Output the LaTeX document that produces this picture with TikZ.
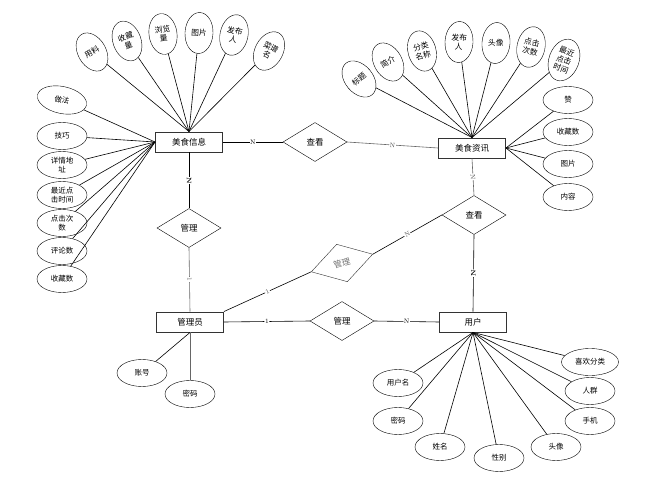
\documentclass[tikz,border=0pt]{standalone}
\usepackage{fontspec}
\newfontfamily\cjk{Noto Sans CJK SC}
\usetikzlibrary{shapes.geometric}
\begin{document}
\begin{tikzpicture}[x=1pt,y=-1pt,
  every node/.style={font=\cjk\fontsize{7.5}{8.5}\selectfont},
  ent/.style={draw=black!80,line width=0.9pt,rectangle,minimum width=67pt,minimum height=20pt,inner sep=0pt,font=\cjk\fontsize{8.5}{9}\selectfont},
  rel/.style={draw,diamond,minimum width=64pt,minimum height=39pt,inner sep=0pt,font=\cjk\fontsize{8.5}{9}\selectfont},
  vatt/.style={draw,ellipse,minimum width=28pt,minimum height=41pt,inner sep=0pt,align=center,font=\cjk\fontsize{7.8}{8.8}\selectfont},
  hatt/.style={draw,ellipse,minimum width=50pt,minimum height=27pt,inner sep=0pt,align=center,font=\cjk\fontsize{7.5}{8.5}\selectfont},
  lbl/.style={midway,sloped,fill=white,inner sep=0.6pt,font=\fontsize{6.5}{6.5}\selectfont},
  conn/.style={line width=0.6pt},
  grayconn/.style={line width=0.6pt,draw=black!60}]
\useasboundingbox[fill=white] (0,0) rectangle (654,479);
% entities
\node[ent] (info) at (189,142) {美食信息};
\node[ent] (news) at (472,148) {美食资讯};
\node[ent] (admin) at (190,322) {管理员};
\node[ent] (user) at (473,322) {用户};
% relations
\node[rel] (r1) at (315,142) {查看};
\node[rel] (r2) at (189,228) {管理};
\node[rel,rotate=16,text=black!55,draw=black!80] (r3) at (342,263) {管理};
\node[rel] (r4) at (474,215) {查看};
\node[rel] (r5) at (342,321) {管理};
% relation edges
\draw[conn] (info.east) -- (r1.west) node[lbl] {N};
\draw[grayconn] (r1.east) -- (news.west) node[lbl,text=black!70] {N};
\draw[conn] (info.south) -- (r2.north) node[lbl,font=\bfseries\fontsize{6.5}{6.5}\selectfont] {N};
\draw[grayconn] (r2.south) -- (admin.north) node[lbl,text=black!60] {1};
\draw[conn] (admin.north east) -- (r3.west) node[lbl,text=black!70] {1};
\draw[conn] (r3.east) -- (r4.west) node[lbl,text=black!70] {N};
\draw[grayconn] (news.south) -- (r4.north) node[lbl,text=black!70] {N};
\draw[conn] (r4.south) -- (user.north) node[lbl,font=\bfseries\fontsize{6.5}{6.5}\selectfont] {N};
\draw[conn] (admin.east) -- (r5.west) node[lbl] {1};
\draw[conn] (r5.east) -- (user.west) node[lbl] {N};
% info top attributes
\node[vatt,rotate=30] (i1) at (92,52) {用料};
\node[vatt,rotate=20] (i2) at (127,41) {收藏\\量};
\node[vatt,rotate=8] (i3) at (163,34) {浏览\\量};
\node[vatt,rotate=-3] (i4) at (199,33) {图片};
\node[vatt,rotate=-12] (i5) at (234,35) {发布\\人};
\node[vatt,rotate=-28] (i6) at (269,51) {菜谱\\名};
\foreach \n in {i1,i2,i3,i4,i5,i6} \draw[conn] (info.north) -- (\n);
% info left attributes
\node[hatt,rotate=-12] (l1) at (62,100) {做法};
\node[hatt] (l2) at (62,136) {技巧};
\node[hatt] (l3) at (62,165) {详情地\\址};
\node[hatt] (l4) at (62,195) {最近点\\击时间};
\node[hatt] (l5) at (62,223) {点击次\\数};
\node[hatt] (l6) at (62,251) {评论数};
\node[hatt] (l7) at (62,279) {收藏数};
\foreach \n in {l1,l2,l3,l4,l5,l6,l7} \draw[conn] (info.west) -- (\n);
% news top attributes
\node[vatt,rotate=40] (n1) at (359,79) {标题};
\node[vatt,rotate=30] (n2) at (388,62) {简介};
\node[vatt,rotate=15] (n3) at (422,51) {分类\\名称};
\node[vatt,rotate=-3] (n4) at (459,42) {发布\\人};
\node[vatt,rotate=-5] (n5) at (496,43) {头像};
\node[vatt,rotate=-12] (n6) at (531,47) {点击\\次数};
\node[vatt,rotate=-20,minimum height=43pt,minimum width=30pt] (n7) at (564,60) {最近\\点击\\时间};
\foreach \n in {n1,n2,n3,n4,n5,n6,n7} \draw[conn] (news.north) -- (\n);
% news right attributes
\node[hatt] (m1) at (568,100) {赞};
\node[hatt] (m2) at (568,132) {收藏数};
\node[hatt] (m3) at (568,164) {图片};
\node[hatt] (m4) at (568,197) {内容};
\foreach \n in {m1,m2,m3,m4} \draw[conn] (news.east) -- (\n);
% admin attributes
\node[hatt] (a1) at (142,373) {账号};
\node[hatt] (a2) at (190,394) {密码};
\draw[conn] (admin.south) -- (a1);
\draw[grayconn,line width=1pt] (admin.south) -- (a2);
% user attributes
\node[hatt] (u1) at (398,383) {用户名};
\node[hatt] (u2) at (398,421) {密码};
\node[hatt] (u3) at (440,447) {姓名};
\node[hatt] (u4) at (499,458) {性别};
\node[hatt] (u5) at (556,447) {头像};
\node[hatt] (u6) at (590,421) {手机};
\node[hatt] (u7) at (590,391) {人群};
\node[hatt,minimum width=57pt] (u8) at (590,362) {喜欢分类};
\foreach \n in {u1,u2,u3,u4,u5,u6,u7,u8} \draw[conn] (user.south) -- (\n);
\end{tikzpicture}
\end{document}
